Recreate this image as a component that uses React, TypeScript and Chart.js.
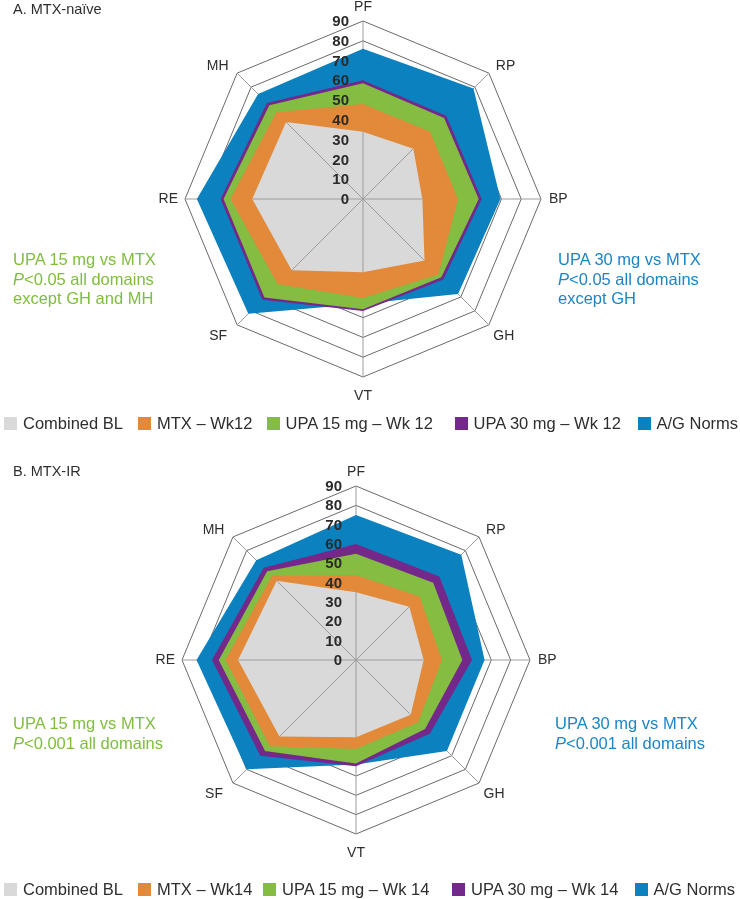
import React, { useEffect, useRef } from 'react';
import { Chart, registerables } from 'chart.js';

Chart.register(...registerables);

// ---------- data ----------
const domains = ['PF', 'RP', 'BP', 'GH', 'VT', 'SF', 'RE', 'MH'];
const tickLabels = ['0', '10', '20', '30', '40', '50', '60', '70', '80', '90'];

// A. MTX-naïve
const naiveBL = [34, 36, 30, 44, 37, 51, 56, 55];
const naiveMTX = [48, 48, 48, 54, 50, 61, 67, 62];
const naiveUPA15 = [58.5, 58, 58.5, 56, 55.7, 70.5, 70.5, 67];
const naiveUPA30 = [60, 59.5, 60, 57.5, 56.6, 72, 72, 68.7];
const naiveNorms = [76, 79, 69.5, 68, 53, 82, 84, 75];

// B. MTX-IR
const irBL = [35, 39, 35, 40, 40, 56, 61, 58];
const irMTX = [44, 46.5, 44.5, 45.5, 46, 63, 67.5, 61.5];
const irUPA15 = [55, 56.5, 55, 50.5, 53.5, 66.5, 71, 65];
const irUPA30 = [60, 61, 60, 54, 55, 70, 74.5, 67.5];
const irNorms = [75, 77, 66.5, 66.5, 54, 80, 82.5, 73];

const legendA = ['Combined BL', 'MTX – Wk12', 'UPA 15 mg – Wk 12', 'UPA 30 mg – Wk 12', 'A/G Norms'];
const legendB = ['Combined BL', 'MTX – Wk14', 'UPA 15 mg – Wk 14', 'UPA 30 mg – Wk 14', 'A/G Norms'];

const colors = ['#d9d9d9', '#e2893a', '#84bd41', '#74288a', '#0b81bf'];

const FONT = '"Liberation Sans", Arial, Helvetica, sans-serif';
const TEXT = '#2e2e2e';
const GREEN_TXT = '#7fbd3e';
const BLUE_TXT = '#1b85c6';

// label offsets from ring vertex: [dx, dy, align]
const labelPlace: [number, number, CanvasTextAlign][] = [
  [0, -14, 'center'],
  [7, -7, 'left'],
  [8, 0, 'left'],
  [4.5, 11, 'left'],
  [0, 19, 'center'],
  [-10, 11, 'right'],
  [-7, 0, 'right'],
  [-8.5, -7, 'right'],
];

const radarDecor = {
  id: 'radarDecor',
  afterDatasetDraw(chart: any, args: any) {
    if (args.index !== 0) return;
    const scale = chart.scales.r;
    const pts = args.meta.data;
    const ctx = chart.ctx;
    ctx.save();
    ctx.beginPath();
    pts.forEach((p: any, i: number) => (i ? ctx.lineTo(p.x, p.y) : ctx.moveTo(p.x, p.y)));
    ctx.closePath();
    ctx.clip();
    ctx.strokeStyle = '#9c9c9c';
    ctx.lineWidth = 1;
    ctx.beginPath();
    for (let i = 0; i < pts.length; i++) {
      const pos = scale.getPointPosition(i, scale.drawingArea);
      ctx.moveTo(scale.xCenter, scale.yCenter);
      ctx.lineTo(pos.x, pos.y);
    }
    ctx.stroke();
    ctx.restore();
  },
  afterDatasetsDraw(chart: any) {
    const scale = chart.scales.r;
    const ctx = chart.ctx;
    ctx.save();
    // tick labels
    ctx.font = `bold 15px ${FONT}`;
    ctx.fillStyle = '#2a2a2a';
    ctx.textAlign = 'right';
    ctx.textBaseline = 'middle';
    scale.ticks.forEach((t: any, i: number) => {
      const d = scale.getDistanceFromCenterForValue(t.value);
      ctx.fillText(tickLabels[i] ?? String(t.value), scale.xCenter - 14, scale.yCenter - d + 1);
    });
    // point labels
    ctx.font = `14px ${FONT}`;
    ctx.fillStyle = TEXT;
    const labels = chart.data.labels as string[];
    labels.forEach((lab, i) => {
      const pos = scale.getPointPosition(i, scale.drawingArea);
      const [dx, dy, align] = labelPlace[i];
      ctx.textAlign = align;
      ctx.textBaseline = 'middle';
      ctx.fillText(lab, pos.x + dx, pos.y + dy);
    });
    ctx.restore();
  },
};

type RadarProps = {
  series: number[][];
  width: number;
  height: number;
  padding: { left: number; right: number; top: number; bottom: number };
};

function Radar({ series, width, height, padding }: RadarProps) {
  const ref = useRef<HTMLCanvasElement | null>(null);
  useEffect(() => {
    if (!ref.current) return;
    const chart = new Chart(ref.current, {
      type: 'radar',
      data: {
        labels: domains,
        datasets: series.map((d, i) => ({
          data: d,
          backgroundColor: colors[i],
          borderWidth: 0,
          borderColor: 'rgba(0,0,0,0)',
          pointRadius: 0,
          pointHoverRadius: 0,
          fill: 'origin',
        })),
      },
      options: {
        responsive: false,
        animation: false,
        layout: { padding },
        plugins: {
          legend: { display: false },
          tooltip: { enabled: false },
          title: { display: false },
        },
        elements: { line: { tension: 0 } },
        scales: {
          r: {
            min: 0,
            max: 90,
            ticks: { stepSize: 10, display: false },
            pointLabels: { display: false },
            grid: { color: '#6a6a6a', lineWidth: 1 },
            angleLines: { color: '#9c9c9c', lineWidth: 1 },
          },
        },
      } as any,
      plugins: [radarDecor],
    });
    return () => chart.destroy();
  }, []);
  return <canvas ref={ref} width={width} height={height} style={{ display: 'block', width, height }} />;
}

function Legend({ items, boxes, top }: { items: string[]; boxes: number[]; top: number }) {
  return (
    <>
      {items.map((t, i) => (
        <div key={i} style={{ position: 'absolute', left: boxes[i], top: top - 10, height: 20, display: 'flex', alignItems: 'center', whiteSpace: 'nowrap' }}>
          <span style={{ display: 'inline-block', width: 13, height: 13, background: colors[i], marginRight: 6 }} />
          <span style={{ font: `16.5px ${FONT}`, color: TEXT, lineHeight: '20px' }}>{t}</span>
        </div>
      ))}
    </>
  );
}

function Note({ lines, left, top, color, lh }: { lines: React.ReactNode[]; left: number; top: number; color: string; lh: number }) {
  return (
    <div style={{ position: 'absolute', left, top, color, font: `16.5px ${FONT}`, lineHeight: `${lh}px`, whiteSpace: 'nowrap' }}>
      {lines.map((l, i) => (
        <div key={i}>{l}</div>
      ))}
    </div>
  );
}

export default function App() {
  return (
    <div style={{ position: 'absolute', left: 0, top: 0, width: 740, height: 899, background: '#fff', overflow: 'hidden', fontFamily: FONT }}>
      <div style={{ position: 'absolute', left: 0, top: 0 }}>
        <Radar
          series={[naiveBL, naiveMTX, naiveUPA15, naiveUPA30, naiveNorms]}
          width={740}
          height={440}
          padding={{ left: 185, right: 199, top: 21, bottom: 63 }}
        />
      </div>
      <div style={{ position: 'absolute', left: 0, top: 440 }}>
        <Radar
          series={[irBL, irMTX, irUPA15, irUPA30, irNorms]}
          width={740}
          height={459}
          padding={{ left: 182, right: 210, top: 46, bottom: 65 }}
        />
      </div>

      <div style={{ position: 'absolute', left: 13, top: 1, font: `14.5px ${FONT}`, color: TEXT, lineHeight: '16px' }}>A. MTX-naïve</div>
      <div style={{ position: 'absolute', left: 13, top: 463, font: `14.5px ${FONT}`, color: TEXT, lineHeight: '16px' }}>B. MTX-IR</div>

      <Note
        left={13}
        top={250}
        lh={19.6}
        color={GREEN_TXT}
        lines={['UPA 15 mg vs MTX', <span><i>P</i>&lt;0.05 all domains</span>, 'except GH and MH']}
      />
      <Note
        left={558}
        top={250}
        lh={19.6}
        color={BLUE_TXT}
        lines={['UPA 30 mg vs MTX', <span><i>P</i>&lt;0.05 all domains</span>, 'except GH']}
      />
      <Note
        left={13}
        top={713}
        lh={20}
        color={GREEN_TXT}
        lines={['UPA 15 mg vs MTX', <span><i>P</i>&lt;0.001 all domains</span>]}
      />
      <Note
        left={555}
        top={713}
        lh={20}
        color={BLUE_TXT}
        lines={['UPA 30 mg vs MTX', <span><i>P</i>&lt;0.001 all domains</span>]}
      />

      <Legend items={legendA} boxes={[4, 138, 266.5, 454.5, 637.5]} top={423} />
      <Legend items={legendB} boxes={[4, 138, 263, 452, 634.5]} top={889} />
    </div>
  );
}
